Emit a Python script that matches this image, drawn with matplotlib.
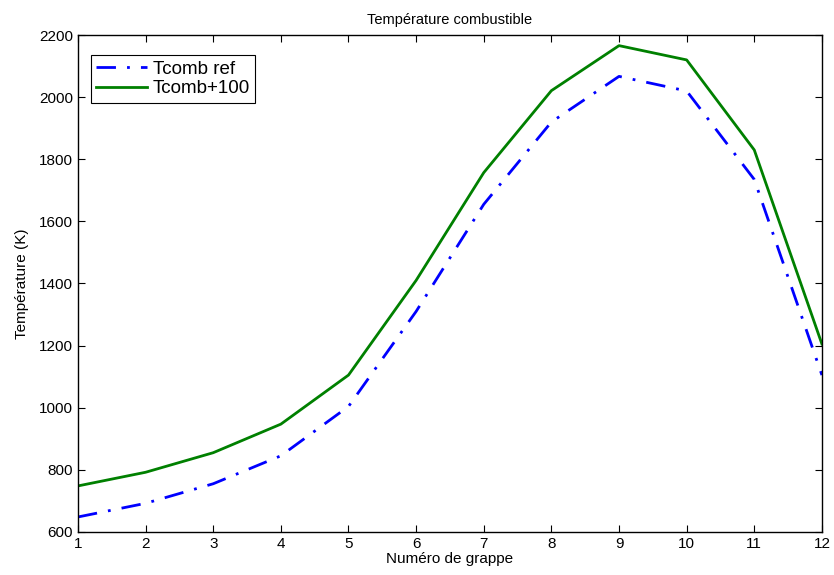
import matplotlib
matplotlib.use("Agg")
from matplotlib import pyplot as plt

# numero de grappe
grappe = [1, 2, 3, 4, 5, 6, 7, 8, 9, 10, 11, 12]
# temperatures (K)
t_ref = [648, 692, 755, 845, 1004, 1310, 1655, 1920, 2067, 2020, 1735, 1105]
t_plus = [748, 792, 855, 947, 1105, 1410, 1757, 2021, 2166, 2120, 1830, 1205]

plt.rcParams['font.family'] = ['Liberation Sans', 'DejaVu Sans']

fig = plt.figure(figsize=(8.34, 5.75), dpi=100)
ax = fig.add_axes([0.0935, 0.075, 0.892, 0.864])

ax.plot(grappe, t_ref, color='blue', linewidth=2, linestyle=(0, (7, 4, 1, 4)), label='Tcomb ref')
ax.plot(grappe, t_plus, color='green', linewidth=2, label='Tcomb+100')

ax.set_xlim(1, 12)
ax.set_ylim(600, 2200)
ax.set_xticks(grappe)
ax.set_yticks(range(600, 2201, 200))
ax.tick_params(direction='in', top=True, right=True, labelsize=11, length=5)
for s in ax.spines.values():
    s.set_linewidth(1)

ax.set_title('Température combustible', fontsize=10.5, pad=8)
ax.set_xlabel('Numéro de grappe', fontsize=11, labelpad=1)
ax.set_ylabel('Température (K)', fontsize=11, labelpad=7)

leg = ax.legend(loc='upper left', bbox_to_anchor=(0.017, 0.96), fontsize=13.5,
                fancybox=False, edgecolor='black', framealpha=1,
                handlelength=2.7, borderpad=0.3, labelspacing=0.12, handletextpad=0.3,
                borderaxespad=0)
leg.get_frame().set_linewidth(0.8)

fig.savefig('out.png', dpi=100)
